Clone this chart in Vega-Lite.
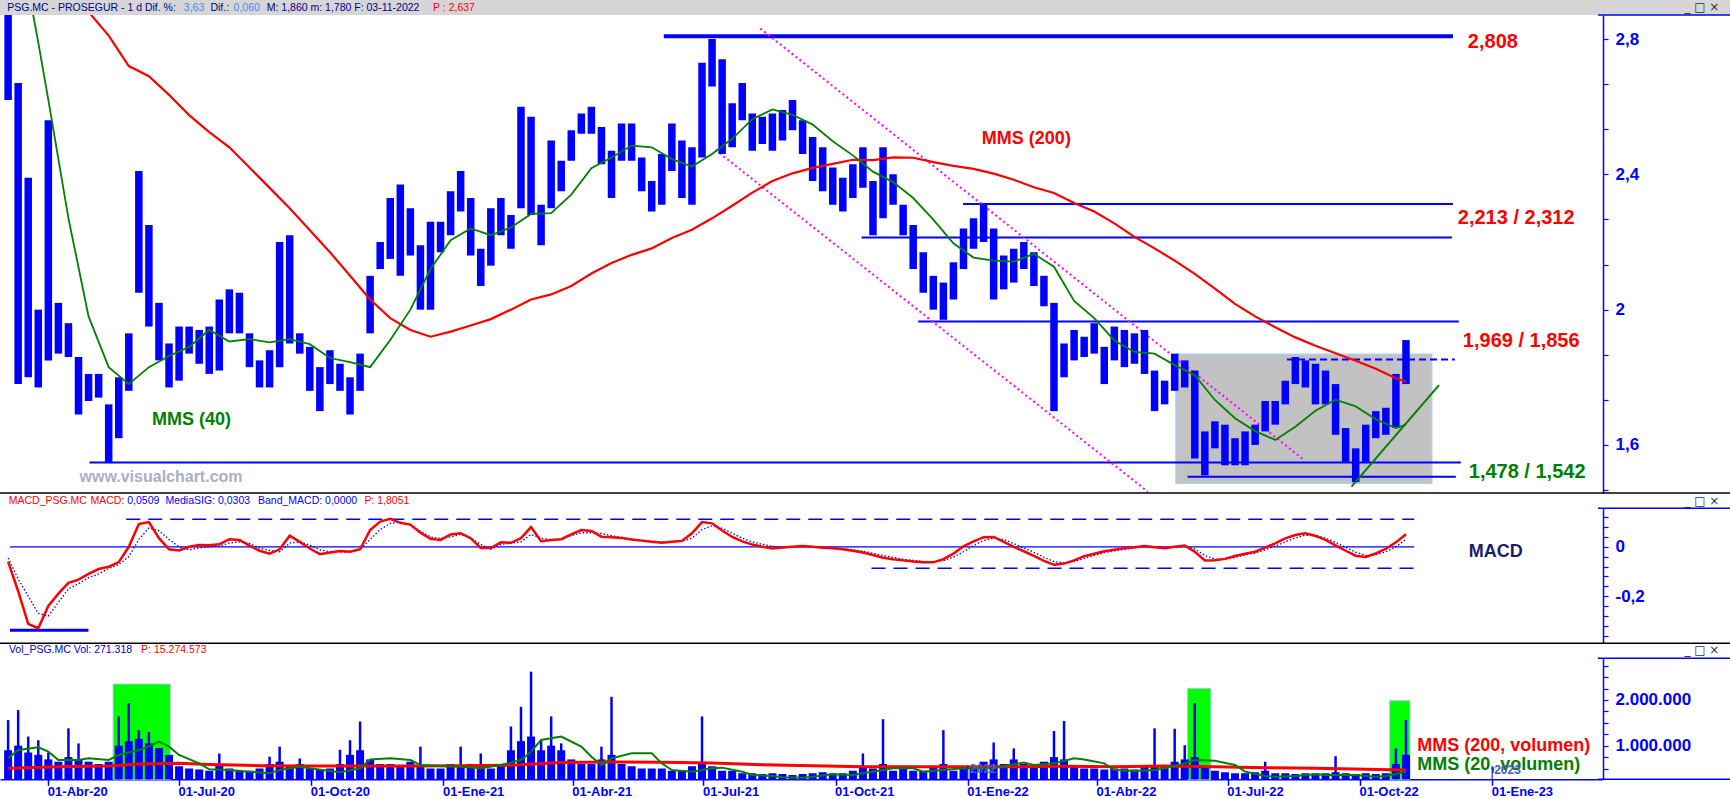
{
"$schema":"https://vega.github.io/schema/vega-lite/v6.json",
"width":1603,"height":764.3,
"autosize":{"type":"none"},
"padding":{"left":0,"top":15,"right":127,"bottom":19.7},
"background":"white",
"config":{"view":{"stroke":null}},
"datasets":{"w":[
{"d":"2020-03-04","h":2.92,"l":2.62,"mc":-0.06,"sg":-0.045,"v":900000,"vs":1560000,"v2":505000,"v20":724000},
{"d":"2020-03-11","h":2.67,"l":1.78,"mc":-0.18,"sg":-0.13,"v":1000000,"vs":1780000,"v20":906000},
{"d":"2020-03-18","h":2.39,"l":1.80,"mc":-0.312,"sg":-0.2,"v":850000,"vs":1200000,"m4":2.95},
{"d":"2020-03-25","h":2.00,"l":1.77,"mc":-0.33,"sg":-0.27,"v":800000,"vs":1120000,"m4":2.79,"v20":965000},
{"d":"2020-04-01","h":2.56,"l":1.85,"mc":-0.24,"sg":-0.28,"v":700000,"vs":850000,"m4":2.62,"v20":870000},
{"d":"2020-04-08","h":2.02,"l":1.87,"mc":-0.19,"sg":-0.225,"v":650000,"v2":540000,"v20":687000},
{"d":"2020-04-15","h":1.96,"l":1.86,"mc":-0.146,"sg":-0.17,"v":750000,"vs":1380000,"m2":3.0,"m4":2.27},
{"d":"2020-04-22","h":1.86,"l":1.69,"mc":-0.133,"sg":-0.15,"v":700000,"vs":1050000,"v20":687000},
{"d":"2020-04-29","h":1.81,"l":1.73,"mc":-0.11,"sg":-0.125,"v":650000,"m2":2.88,"m4":1.98,"v20":724000},
{"d":"2020-05-06","h":1.81,"l":1.74,"mc":-0.09,"sg":-0.11,"v":600000},
{"d":"2020-05-13","h":1.72,"l":1.55,"mc":-0.081,"sg":-0.088,"v":650000,"m2":2.81,"m4":1.83,"v2":556000,"v20":687000},
{"d":"2020-05-20","h":1.80,"l":1.62,"mc":-0.062,"sg":-0.072,"v":1000000,"vs":1640000,"v20":797000},
{"d":"2020-05-27","h":1.93,"l":1.76,"mc":0.0,"sg":-0.04,"v":1100000,"vs":1930000,"m2":2.72,"m4":1.78},
{"d":"2020-06-03","h":2.41,"l":2.05,"mc":0.092,"sg":0.03,"v":1150000,"vs":1340000,"v2":600000,"v20":906000},
{"d":"2020-06-10","h":2.25,"l":1.95,"mc":0.10,"sg":0.076,"v":1050000,"vs":1300000,"m2":2.69,"m4":1.83,"v20":980000},
{"d":"2020-06-17","h":2.02,"l":1.85,"mc":0.035,"sg":0.065,"v":950000,"v20":1090000},
{"d":"2020-06-24","h":1.90,"l":1.77,"mc":-0.01,"sg":0.03,"v":800000,"m2":2.635,"m4":1.863,"v20":980000},
{"d":"2020-07-01","h":1.95,"l":1.79,"mc":-0.015,"sg":0.0,"v":550000,"v2":614000,"v20":797000},
{"d":"2020-07-08","h":1.95,"l":1.87,"mc":0.0,"sg":-0.012,"v":500000,"m2":2.575,"m4":1.89},
{"d":"2020-07-15","h":1.94,"l":1.84,"mc":0.007,"sg":-0.005,"v":480000,"v20":614000},
{"d":"2020-07-22","h":1.95,"l":1.81,"mc":0.006,"sg":0.0,"v":450000,"m2":2.525,"m4":1.94,"v2":590000,"v20":483000},
{"d":"2020-07-29","h":2.03,"l":1.82,"mc":0.01,"sg":0.003,"v":600000,"vs":830000},
{"d":"2020-08-05","h":2.06,"l":1.93,"mc":0.031,"sg":0.015,"v":500000,"m2":2.48,"m4":1.906,"v20":468000},
{"d":"2020-08-12","h":2.05,"l":1.93,"mc":0.028,"sg":0.02,"v":450000},
{"d":"2020-08-19","h":1.93,"l":1.83,"mc":0.005,"sg":0.014,"v":450000,"m2":2.42,"m4":1.913,"v20":430000},
{"d":"2020-08-26","h":1.85,"l":1.77,"mc":-0.016,"sg":-0.005,"v":500000,"v2":563000},
{"d":"2020-09-02","h":1.88,"l":1.77,"mc":-0.028,"sg":-0.015,"v":600000,"vs":760000,"m2":2.36,"m4":1.903,"v20":395000},
{"d":"2020-09-09","h":2.20,"l":1.83,"mc":-0.01,"sg":-0.02,"v":650000,"vs":980000,"v20":468000},
{"d":"2020-09-16","h":2.22,"l":1.90,"mc":0.045,"sg":0.015,"v":550000,"m2":2.30,"m4":1.913},
{"d":"2020-09-23","h":1.93,"l":1.87,"mc":0.02,"sg":0.02,"v":600000,"vs":720000,"v20":540000},
{"d":"2020-09-30","h":1.89,"l":1.76,"mc":-0.007,"sg":0.007,"v":500000,"m2":2.235,"m4":1.898,"v2":556000,"v20":505000},
{"d":"2020-10-07","h":1.83,"l":1.70,"mc":-0.03,"sg":-0.012,"v":480000},
{"d":"2020-10-14","h":1.88,"l":1.78,"mc":-0.023,"sg":-0.02,"v":500000,"m2":2.17,"m4":1.857,"v20":447000},
{"d":"2020-10-21","h":1.84,"l":1.76,"mc":-0.017,"sg":-0.02,"v":600000,"vs":910000,"v20":417000},
{"d":"2020-10-28","h":1.80,"l":1.69,"mc":-0.02,"sg":-0.02,"v":800000,"vs":1120000,"m2":2.10,"m4":1.845},
{"d":"2020-11-04","h":1.87,"l":1.76,"mc":-0.01,"sg":-0.012,"v":900000,"vs":1530000,"v2":556000,"v20":505000},
{"d":"2020-11-11","h":2.10,"l":1.93,"mc":0.068,"sg":0.03,"v":700000,"m2":2.03,"m4":1.83,"v20":700000},
{"d":"2020-11-18","h":2.20,"l":2.12,"mc":0.102,"sg":0.07,"v":600000},
{"d":"2020-11-25","h":2.33,"l":2.15,"mc":0.113,"sg":0.095,"v":600000,"m2":1.975,"m4":1.91,"v20":724000},
{"d":"2020-12-02","h":2.37,"l":2.10,"mc":0.097,"sg":0.10,"v":550000},
{"d":"2020-12-09","h":2.30,"l":2.16,"mc":0.09,"sg":0.088,"v":650000,"m2":1.94,"m4":2.00,"v2":556000,"v20":687000},
{"d":"2020-12-16","h":2.19,"l":2.00,"mc":0.057,"sg":0.063,"v":550000,"vs":980000,"v20":577000},
{"d":"2020-12-23","h":2.26,"l":2.00,"mc":0.032,"sg":0.04,"v":500000,"m2":1.92,"m4":2.12},
{"d":"2020-12-30","h":2.26,"l":2.17,"mc":0.028,"sg":0.034,"v":500000,"v20":556000},
{"d":"2021-01-06","h":2.35,"l":2.22,"mc":0.05,"sg":0.04,"v":600000,"m2":1.935,"m4":2.205},
{"d":"2021-01-13","h":2.41,"l":2.29,"mc":0.055,"sg":0.05,"v":550000,"vs":980000,"v2":563000,"v20":540000},
{"d":"2021-01-20","h":2.33,"l":2.16,"mc":0.035,"sg":0.035,"v":600000,"m2":1.953,"m4":2.24},
{"d":"2021-01-27","h":2.18,"l":2.07,"mc":-0.005,"sg":0.01,"v":550000,"vs":830000,"v20":505000},
{"d":"2021-02-03","h":2.30,"l":2.13,"mc":-0.005,"sg":-0.01,"v":500000,"m2":1.972,"m4":2.22},
{"d":"2021-02-10","h":2.33,"l":2.22,"mc":0.018,"sg":0.01,"v":600000,"v20":577000},
{"d":"2021-02-17","h":2.28,"l":2.18,"mc":0.016,"sg":0.014,"v":900000,"vs":1420000,"m2":2.00,"m4":2.243,"v2":570000},
{"d":"2021-02-24","h":2.60,"l":2.30,"mc":0.035,"sg":0.02,"v":1100000,"vs":1850000,"v20":687000},
{"d":"2021-03-03","h":2.57,"l":2.28,"mc":0.08,"sg":0.05,"v":1200000,"vs":2620000,"m2":2.03,"m4":2.283,"v20":870000},
{"d":"2021-03-10","h":2.31,"l":2.19,"mc":0.023,"sg":0.035,"v":900000,"vs":1120000,"v20":1125000},
{"d":"2021-03-17","h":2.50,"l":2.30,"mc":0.028,"sg":0.028,"v":1000000,"vs":1640000,"m2":2.045,"m4":2.285},
{"d":"2021-03-24","h":2.44,"l":2.35,"mc":0.031,"sg":0.03,"v":900000,"vs":1050000,"v2":630000,"v20":1200000},
{"d":"2021-03-31","h":2.53,"l":2.44,"mc":0.05,"sg":0.045,"v":700000,"m2":2.07,"m4":2.34},
{"d":"2021-04-07","h":2.58,"l":2.52,"mc":0.068,"sg":0.057,"v":600000,"v20":980000},
{"d":"2021-04-14","h":2.60,"l":2.52,"mc":0.064,"sg":0.057,"v":600000,"m2":2.107,"m4":2.418,"v20":760000},
{"d":"2021-04-21","h":2.54,"l":2.43,"mc":0.041,"sg":0.054,"v":700000,"vs":980000,"v20":577000},
{"d":"2021-04-28","h":2.47,"l":2.33,"mc":0.039,"sg":0.045,"v":800000,"vs":2070000,"m2":2.138,"m4":2.45,"v2":643000,"v20":724000},
{"d":"2021-05-05","h":2.55,"l":2.44,"mc":0.036,"sg":0.038,"v":600000},
{"d":"2021-05-12","h":2.55,"l":2.44,"mc":0.03,"sg":0.032,"v":550000,"m2":2.162,"m4":2.485,"v20":833000},
{"d":"2021-05-19","h":2.45,"l":2.35,"mc":0.025,"sg":0.026,"v":500000},
{"d":"2021-05-26","h":2.38,"l":2.29,"mc":0.02,"sg":0.022,"v":500000,"m2":2.181,"m4":2.48,"v20":833000},
{"d":"2021-06-02","h":2.46,"l":2.31,"mc":0.016,"sg":0.02,"v":500000,"v2":636000,"v20":614000},
{"d":"2021-06-09","h":2.55,"l":2.41,"mc":0.02,"sg":0.02,"v":450000,"m2":2.212,"m4":2.445,"v20":468000},
{"d":"2021-06-16","h":2.50,"l":2.33,"mc":0.024,"sg":0.022,"v":450000},
{"d":"2021-06-23","h":2.48,"l":2.31,"mc":0.055,"sg":0.035,"v":550000,"m2":2.236,"m4":2.423,"v20":430000},
{"d":"2021-06-30","h":2.73,"l":2.45,"mc":0.1,"sg":0.07,"v":600000,"vs":1640000},
{"d":"2021-07-07","h":2.80,"l":2.66,"mc":0.095,"sg":0.085,"v":550000,"m2":2.27,"m4":2.46,"v2":620000,"v20":505000},
{"d":"2021-07-14","h":2.74,"l":2.46,"mc":0.066,"sg":0.075,"v":450000,"v20":520000},
{"d":"2021-07-21","h":2.61,"l":2.48,"mc":0.04,"sg":0.055,"v":450000,"m2":2.307,"m4":2.505},
{"d":"2021-07-28","h":2.67,"l":2.56,"mc":0.022,"sg":0.035,"v":400000,"v20":430000},
{"d":"2021-08-04","h":2.58,"l":2.47,"mc":0.009,"sg":0.02,"v":400000,"m2":2.346,"m4":2.563,"v20":360000},
{"d":"2021-08-11","h":2.57,"l":2.49,"mc":0.0,"sg":0.01,"v":380000,"v2":585000},
{"d":"2021-08-18","h":2.58,"l":2.47,"mc":-0.007,"sg":0.002,"v":400000,"m2":2.38,"m4":2.592,"v20":337000},
{"d":"2021-08-25","h":2.59,"l":2.50,"mc":-0.003,"sg":-0.002,"v":380000,"v20":308000},
{"d":"2021-09-01","h":2.62,"l":2.53,"mc":0.0,"sg":-0.001,"v":360000,"m2":2.403,"m4":2.576},
{"d":"2021-09-08","h":2.56,"l":2.46,"mc":0.003,"sg":0.0,"v":380000,"v20":300000},
{"d":"2021-09-15","h":2.51,"l":2.38,"mc":0.0,"sg":0.0,"v":400000,"m2":2.419,"m4":2.547,"v2":563000,"v20":322000},
{"d":"2021-09-22","h":2.48,"l":2.35,"mc":-0.004,"sg":-0.002,"v":420000},
{"d":"2021-09-29","h":2.42,"l":2.31,"mc":-0.006,"sg":-0.004,"v":400000,"m2":2.431,"m4":2.498,"v20":373000},
{"d":"2021-10-06","h":2.39,"l":2.29,"mc":-0.01,"sg":-0.007,"v":400000},
{"d":"2021-10-13","h":2.43,"l":2.33,"mc":-0.016,"sg":-0.012,"v":450000,"m2":2.443,"m4":2.456,"v20":358000},
{"d":"2021-10-20","h":2.48,"l":2.36,"mc":-0.023,"sg":-0.018,"v":550000,"vs":830000,"v2":540000,"v20":395000},
{"d":"2021-10-27","h":2.38,"l":2.22,"mc":-0.033,"sg":-0.026,"v":500000,"m2":2.442,"m4":2.408},
{"d":"2021-11-03","h":2.48,"l":2.27,"mc":-0.044,"sg":-0.035,"v":600000,"vs":1580000,"v20":468000},
{"d":"2021-11-10","h":2.40,"l":2.31,"mc":-0.05,"sg":-0.043,"v":450000,"m2":2.45,"m4":2.377,"v20":505000},
{"d":"2021-11-17","h":2.31,"l":2.22,"mc":-0.055,"sg":-0.05,"v":500000},
{"d":"2021-11-24","h":2.25,"l":2.12,"mc":-0.06,"sg":-0.055,"v":450000,"m2":2.449,"m4":2.33,"v2":540000,"v20":505000},
{"d":"2021-12-01","h":2.17,"l":2.05,"mc":-0.063,"sg":-0.059,"v":450000,"v20":432000},
{"d":"2021-12-08","h":2.10,"l":2.00,"mc":-0.063,"sg":-0.061,"v":550000,"m2":2.436,"m4":2.266},
{"d":"2021-12-15","h":2.08,"l":1.97,"mc":-0.05,"sg":-0.056,"v":600000,"vs":1340000,"v20":468000},
{"d":"2021-12-22","h":2.14,"l":2.03,"mc":-0.028,"sg":-0.042,"v":450000,"m2":2.425,"m4":2.196},
{"d":"2021-12-29","h":2.24,"l":2.12,"mc":0.002,"sg":-0.02,"v":500000,"v2":540000,"v20":505000},
{"d":"2022-01-05","h":2.27,"l":2.18,"mc":0.022,"sg":0.005,"v":550000,"m2":2.416,"m4":2.154,"v20":505000},
{"d":"2022-01-12","h":2.31,"l":2.20,"mc":0.039,"sg":0.025,"v":650000},
{"d":"2022-01-19","h":2.24,"l":2.03,"mc":0.04,"sg":0.035,"v":700000,"vs":1070000,"m2":2.402,"m4":2.145,"v20":505000},
{"d":"2022-01-26","h":2.16,"l":2.06,"mc":0.02,"sg":0.03,"v":600000,"v20":556000},
{"d":"2022-02-02","h":2.18,"l":2.08,"mc":0.0,"sg":0.013,"v":700000,"vs":940000,"m2":2.384,"m4":2.142,"v2":540000},
{"d":"2022-02-09","h":2.20,"l":2.12,"mc":-0.018,"sg":-0.005,"v":600000,"v20":630000},
{"d":"2022-02-16","h":2.17,"l":2.07,"mc":-0.037,"sg":-0.022,"v":550000,"m2":2.362,"m4":2.165,"v20":577000},
{"d":"2022-02-23","h":2.10,"l":2.01,"mc":-0.057,"sg":-0.042,"v":650000},
{"d":"2022-03-02","h":2.02,"l":1.70,"mc":-0.073,"sg":-0.06,"v":750000,"vs":1320000,"m2":2.345,"m4":2.127,"v20":614000},
{"d":"2022-03-09","h":1.90,"l":1.80,"mc":-0.068,"sg":-0.065,"v":700000,"vs":1540000,"v2":550000},
{"d":"2022-03-16","h":1.94,"l":1.85,"mc":-0.055,"sg":-0.06,"v":550000,"m2":2.315,"m4":2.026,"v20":724000},
{"d":"2022-03-23","h":1.92,"l":1.86,"mc":-0.038,"sg":-0.047,"v":500000,"v20":700000},
{"d":"2022-03-30","h":1.96,"l":1.87,"mc":-0.028,"sg":-0.035,"v":500000,"m2":2.29,"m4":1.975},
{"d":"2022-04-06","h":1.89,"l":1.78,"mc":-0.018,"sg":-0.024,"v":480000,"v20":614000},
{"d":"2022-04-13","h":1.95,"l":1.85,"mc":-0.012,"sg":-0.016,"v":500000,"m2":2.255,"m4":1.909,"v2":540000,"v20":468000},
{"d":"2022-04-20","h":1.94,"l":1.83,"mc":-0.006,"sg":-0.01,"v":500000},
{"d":"2022-04-27","h":1.93,"l":1.84,"mc":-0.002,"sg":-0.005,"v":480000,"m2":2.215,"m4":1.875,"v20":447000},
{"d":"2022-05-04","h":1.94,"l":1.81,"mc":0.003,"sg":0.0,"v":550000},
{"d":"2022-05-11","h":1.82,"l":1.70,"mc":-0.002,"sg":0.0,"v":550000,"vs":1380000,"m2":2.181,"m4":1.87,"v20":468000},
{"d":"2022-05-18","h":1.79,"l":1.72,"mc":-0.006,"sg":-0.004,"v":550000,"v2":556000,"v20":505000},
{"d":"2022-05-25","h":1.87,"l":1.76,"mc":0.0,"sg":-0.002,"v":650000,"vs":1370000,"m2":2.145,"m4":1.836},
{"d":"2022-06-01","h":1.85,"l":1.77,"mc":0.005,"sg":0.002,"v":700000,"vs":1010000,"v20":614000},
{"d":"2022-06-08","h":1.82,"l":1.56,"mc":-0.02,"sg":-0.008,"v":750000,"vs":1930000,"m2":2.106,"m4":1.806,"v20":687000},
{"d":"2022-06-15","h":1.64,"l":1.51,"mc":-0.055,"sg":-0.035,"v":550000},
{"d":"2022-06-22","h":1.67,"l":1.59,"mc":-0.054,"sg":-0.05,"v":450000,"m2":2.062,"m4":1.733,"v2":540000,"v20":672000},
{"d":"2022-06-29","h":1.66,"l":1.54,"mc":-0.049,"sg":-0.05,"v":420000},
{"d":"2022-07-06","h":1.62,"l":1.54,"mc":-0.037,"sg":-0.043,"v":400000,"m2":2.017,"m4":1.679,"v20":577000},
{"d":"2022-07-13","h":1.64,"l":1.54,"mc":-0.028,"sg":-0.033,"v":400000,"v20":432000},
{"d":"2022-07-20","h":1.66,"l":1.60,"mc":-0.02,"sg":-0.025,"v":420000,"m2":1.98,"m4":1.641},
{"d":"2022-07-27","h":1.73,"l":1.64,"mc":-0.003,"sg":-0.012,"v":450000,"vs":650000,"v2":520000,"v20":337000},
{"d":"2022-08-03","h":1.73,"l":1.66,"mc":0.014,"sg":0.003,"v":400000,"m2":1.948,"m4":1.615,"v20":322000},
{"d":"2022-08-10","h":1.79,"l":1.72,"mc":0.034,"sg":0.02,"v":400000},
{"d":"2022-08-17","h":1.86,"l":1.78,"mc":0.048,"sg":0.036,"v":380000,"m2":1.918,"m4":1.654,"v20":337000},
{"d":"2022-08-24","h":1.85,"l":1.77,"mc":0.055,"sg":0.047,"v":400000},
{"d":"2022-08-31","h":1.84,"l":1.72,"mc":0.044,"sg":0.046,"v":400000,"m2":1.893,"m4":1.701,"v2":505000,"v20":373000},
{"d":"2022-09-07","h":1.82,"l":1.72,"mc":0.028,"sg":0.035,"v":400000,"v20":358000},
{"d":"2022-09-14","h":1.78,"l":1.63,"mc":0.006,"sg":0.018,"v":420000,"vs":770000,"m2":1.871,"m4":1.734},
{"d":"2022-09-21","h":1.65,"l":1.55,"mc":-0.016,"sg":-0.002,"v":400000,"v20":358000},
{"d":"2022-09-28","h":1.59,"l":1.49,"mc":-0.036,"sg":-0.022,"v":380000,"m2":1.849,"m4":1.714,"v20":358000},
{"d":"2022-10-05","h":1.66,"l":1.55,"mc":-0.041,"sg":-0.035,"v":400000,"v2":483000},
{"d":"2022-10-12","h":1.70,"l":1.62,"mc":-0.027,"sg":-0.033,"v":380000,"m2":1.825,"m4":1.676,"v20":322000},
{"d":"2022-10-19","h":1.71,"l":1.63,"mc":-0.008,"sg":-0.02,"v":400000,"v20":337000},
{"d":"2022-10-26","h":1.81,"l":1.65,"mc":0.018,"sg":0.0,"v":600000,"vs":940000,"m2":1.797,"m4":1.65},
{"d":"2022-11-02","h":1.91,"l":1.78,"mc":0.051,"sg":0.03,"v":800000,"vs":1560000,"m2":1.787,"m4":1.66,"v2":470000,"v20":432000}
]},
"resolve":{"scale":{"y":"independent"},"axis":{"y":"independent"}},
"layer":[
{"layer":[
{"data":{"values":[{"a":"2022-05-25T22:00:00Z","b":"2022-11-19T22:00:00Z","ya":1.487,"yb":1.868}]},
 "mark":{"type":"rect","color":"#bcbcbc","opacity":0.9,"stroke":"#a9c8ea","strokeWidth":1.5},
 "encoding":{
  "x":{"field":"a","type":"temporal","title":null,
   "scale":{"type":"utc","nice":false,"domain":[{"year":2020,"month":3,"date":1,"hours":20,"utc":true},{"year":2023,"month":3,"date":15,"hours":16,"utc":true}]},
   "axis":{"title":null,"values":[{"year":2020,"month":4,"date":1,"utc":true},{"year":2020,"month":7,"date":1,"utc":true},{"year":2020,"month":10,"date":1,"utc":true},{"year":2021,"month":1,"date":1,"utc":true},{"year":2021,"month":4,"date":1,"utc":true},{"year":2021,"month":7,"date":1,"utc":true},{"year":2021,"month":10,"date":1,"utc":true},{"year":2022,"month":1,"date":1,"utc":true},{"year":2022,"month":4,"date":1,"utc":true},{"year":2022,"month":7,"date":1,"utc":true},{"year":2022,"month":10,"date":1,"utc":true},{"year":2023,"month":1,"date":1,"utc":true}],
    "labelExpr":"'01-' + ['Ene','Feb','Mar','Abr','May','Jun','Jul','Ago','Sep','Oct','Nov','Dic'][utcmonth(datum.value)] + '-' + utcFormat(datum.value, '%y')",
    "domainColor":"#0000ff","domainWidth":1.5,"tickColor":"#0000ff","tickSize":6,"tickWidth":1.5,"labelColor":"#0000ff","labelFont":"Liberation Sans","labelFontSize":13,"labelFontWeight":"bold","labelAlign":"left","labelBaseline":"top","labelPadding":0,"labelOffset":-1,"labelOverlap":false,"labelFlush":false,"grid":false}},
  "x2":{"field":"b"},
  "y":{"field":"ya","type":"quantitative","title":null,
   "scale":{"domain":[1.458,2.871],"range":[478,0],"nice":false,"zero":false},
   "axis":{"orient":"right","title":null,"values":[1.4667,1.5,1.5333,1.5667,1.6,1.6333,1.6667,1.7,1.7333,1.7667,1.8,1.8333,1.8667,1.9,1.9333,1.9667,2.0,2.0333,2.0667,2.1,2.1333,2.1667,2.2,2.2333,2.2667,2.3,2.3333,2.3667,2.4,2.4333,2.4667,2.5,2.5333,2.5667,2.6,2.6333,2.6667,2.7,2.7333,2.7667,2.8,2.8333,2.8667],
    "labelExpr":"abs(datum.value*5-round(datum.value*5))<0.01 ? replace(format(datum.value,'~g'),'.',',') : ''",
    "domainColor":"#0000ff","domainWidth":1.5,"tickColor":"#0000ff","tickSize":5,"tickWidth":1.2,"labelColor":"#0000ff","labelFont":"Liberation Sans","labelFontSize":17,"labelFontWeight":"bold","labelPadding":7,"labelOverlap":false,"labelFlush":false,"grid":false}},
  "y2":{"field":"yb"}}},
{"data":{"values":[{"a":"2021-12-28T17:00:00Z","b":"2022-12-04T17:00:00Z","y":2.312},{"a":"2021-10-19T02:00:00Z","b":"2022-12-04T00:00:00Z","y":2.213},{"a":"2021-11-27T12:00:00Z","b":"2022-12-08T19:00:00Z","y":1.965},{"a":"2020-04-29T14:00:00Z","b":"2022-12-10T05:00:00Z","y":1.548},{"a":"2022-06-03T00:00:00Z","b":"2022-12-06T17:00:00Z","y":1.506}]},
 "mark":{"type":"rule","color":"#0000ff","strokeWidth":2},
 "encoding":{"x":{"field":"a","type":"temporal","title":null},"x2":{"field":"b"},"y":{"field":"y","type":"quantitative","title":null}}},
{"data":{"values":[{"a":"2021-06-03T10:00:00Z","b":"2022-12-04T17:00:00Z","y":2.808}]},
 "mark":{"type":"rule","color":"#0000ff","strokeWidth":4},
 "encoding":{"x":{"field":"a","type":"temporal","title":null},"x2":{"field":"b"},"y":{"field":"y","type":"quantitative","title":null}}},
{"data":{"values":[{"a":"2022-08-11T05:00:00Z","b":"2022-12-06T00:00:00Z","y":1.853}]},
 "mark":{"type":"rule","color":"#0000ff","strokeWidth":2,"strokeDash":[7,4]},
 "encoding":{"x":{"field":"a","type":"temporal","title":null},"x2":{"field":"b"},"y":{"field":"y","type":"quantitative","title":null}}},
{"data":{"values":[{"a":"2021-08-09T14:00:00Z","ya":2.831,"b":"2022-08-22T22:00:00Z","yb":1.556},{"a":"2021-07-09T10:00:00Z","ya":2.472,"b":"2022-05-06T07:00:00Z","yb":1.462}]},
 "mark":{"type":"rule","color":"#ff00ff","strokeWidth":2,"strokeDash":[2,3]},
 "encoding":{"x":{"field":"a","type":"temporal","title":null},"x2":{"field":"b"},"y":{"field":"ya","type":"quantitative","title":null},"y2":{"field":"yb"}}},
{"data":{"name":"w"},
 "mark":{"type":"bar","color":"#0000ff","width":7.5,"clip":true},
 "encoding":{"x":{"field":"d","type":"temporal","title":null},"y":{"field":"h","type":"quantitative","title":null},"y2":{"field":"l"}}},
{"data":{"name":"w"},"transform":[{"filter":"isValid(datum.m2)"}],
 "mark":{"type":"line","color":"#ff0000","strokeWidth":2.2,"clip":true},
 "encoding":{"x":{"field":"d","type":"temporal","title":null},"y":{"field":"m2","type":"quantitative","title":null}}},
{"data":{"name":"w"},"transform":[{"filter":"isValid(datum.m4)"}],
 "mark":{"type":"line","color":"#008000","strokeWidth":1.8,"clip":true},
 "encoding":{"x":{"field":"d","type":"temporal","title":null},"y":{"field":"m4","type":"quantitative","title":null}}},
{"data":{"values":[{"a":"2022-09-25T02:00:00Z","ya":1.477,"b":"2022-11-25T00:00:00Z","yb":1.777}]},
 "mark":{"type":"rule","color":"#008000","strokeWidth":2},
 "encoding":{"x":{"field":"a","type":"temporal","title":null},"x2":{"field":"b"},"y":{"field":"ya","type":"quantitative","title":null},"y2":{"field":"yb"}}},
{"data":{"values":[{"a":"2022-12-15T02:00:00Z","y":2.791,"t":"2,808"},{"a":"2022-12-08T02:00:00Z","y":2.271,"t":"2,213 / 2,312"},{"a":"2022-12-11T14:00:00Z","y":1.907,"t":"1,969 / 1,856"}]},
 "mark":{"type":"text","align":"left","baseline":"middle","font":"Liberation Sans","fontWeight":"bold","fontSize":20,"color":"#ff0000"},
 "encoding":{"x":{"field":"a","type":"temporal","title":null},"y":{"field":"y","type":"quantitative","title":null},"text":{"field":"t"}}},
{"data":{"values":[{"a":"2022-12-15T17:00:00Z","y":1.52,"t":"1,478 / 1,542"}]},
 "mark":{"type":"text","align":"left","baseline":"middle","font":"Liberation Sans","fontWeight":"bold","fontSize":20,"color":"#008000"},
 "encoding":{"x":{"field":"a","type":"temporal","title":null},"y":{"field":"y","type":"quantitative","title":null},"text":{"field":"t"}}},
{"data":{"values":[{"a":"2022-01-10T19:00:00Z","y":2.504,"t":"MMS (200)"}]},
 "mark":{"type":"text","align":"left","baseline":"middle","font":"Liberation Sans","fontWeight":"bold","fontSize":18,"color":"#ff0000"},
 "encoding":{"x":{"field":"a","type":"temporal","title":null},"y":{"field":"y","type":"quantitative","title":null},"text":{"field":"t"}}},
{"data":{"values":[{"a":"2020-06-12T05:00:00Z","y":1.674,"t":"MMS (40)"}]},
 "mark":{"type":"text","align":"left","baseline":"middle","font":"Liberation Sans","fontWeight":"bold","fontSize":18,"color":"#008000"},
 "encoding":{"x":{"field":"a","type":"temporal","title":null},"y":{"field":"y","type":"quantitative","title":null},"text":{"field":"t"}}},
{"data":{"values":[{"a":"2020-04-22T17:00:00Z","y":1.505,"t":"www.visualchart.com"}]},
 "mark":{"type":"text","align":"left","baseline":"middle","font":"Liberation Sans","fontWeight":"bold","fontSize":16,"color":"#a9afcb"},
 "encoding":{"x":{"field":"a","type":"temporal","title":null},"y":{"field":"y","type":"quantitative","title":null},"text":{"field":"t"}}},
{"data":{"values":[{"a":"2020-02-01T00:00:00Z","b":"2023-07-01T00:00:00Z"}]},
 "mark":{"type":"rect","color":"#d6d6d6"},
 "encoding":{"x":{"field":"a","type":"temporal","title":null},"x2":{"field":"b"},"y":{"datum":2.871},"y2":{"datum":2.93}}},
{"data":{"values":[{"a":"2020-03-03T09:00:00Z","t":"PSG.MC - PROSEGUR -  1 d  Dif. %:"},{"a":"2020-07-22T19:00:00Z","t":"Dif.:"},{"a":"2020-08-31T00:00:00Z","t":"M: 1,860  m: 1,780  F: 03-11-2022"}]},
 "mark":{"type":"text","align":"left","baseline":"middle","font":"Liberation Sans","fontSize":10.5,"color":"#00008b"},
 "encoding":{"x":{"field":"a","type":"temporal","title":null},"y":{"datum":2.893},"text":{"field":"t"}}},
{"data":{"values":[{"a":"2020-07-04T07:00:00Z","t":"3,63"},{"a":"2020-08-07T22:00:00Z","t":"0,060"}]},
 "mark":{"type":"text","align":"left","baseline":"middle","font":"Liberation Sans","fontSize":10.5,"color":"#3c8cff"},
 "encoding":{"x":{"field":"a","type":"temporal","title":null},"y":{"datum":2.893},"text":{"field":"t"}}},
{"data":{"values":[{"a":"2020-12-24T19:00:00Z","t":"P : 2,637"}]},
 "mark":{"type":"text","align":"left","baseline":"middle","font":"Liberation Sans","fontSize":10.5,"color":"#ff0000"},
 "encoding":{"x":{"field":"a","type":"temporal","title":null},"y":{"datum":2.893},"text":{"field":"t"}}},
{"data":{"values":[{"a":"2023-05-14T19:00:00Z","t":"_ □ ×"}]},
 "mark":{"type":"text","align":"left","baseline":"middle","font":"DejaVu Sans","fontSize":12,"color":"#303030"},
 "encoding":{"x":{"field":"a","type":"temporal","title":null},"y":{"datum":2.894},"text":{"field":"t"}}},
{"data":{"values":[{"a":"2020-02-01T00:00:00Z","b":"2023-07-01T00:00:00Z"}]},
 "mark":{"type":"rule","color":"#000000","strokeWidth":1.5},
 "encoding":{"x":{"field":"a","type":"temporal","title":null},"x2":{"field":"b"},"y":{"datum":1.458}}},
{"data":{"values":[{"a":"2023-03-15T16:00:00Z","b":"2023-07-01T00:00:00Z"}]},
 "mark":{"type":"rule","color":"#0000ff","strokeWidth":1.5},
 "encoding":{"x":{"field":"a","type":"temporal","title":null},"x2":{"field":"b"},"y":{"datum":2.871}}}
]},
{"layer":[
{"data":{"values":[{"a":"2020-03-05T07:00:00Z","b":"2022-11-07T17:00:00Z","y":0}]},
 "mark":{"type":"rule","color":"#0000ff","strokeWidth":1.2},
 "encoding":{"x":{"field":"a","type":"temporal","title":null},"x2":{"field":"b"},
  "y":{"field":"y","type":"quantitative","title":null,
   "scale":{"domain":[-0.391,0.156],"range":[628.3,493.3],"nice":false,"zero":false},
   "axis":{"orient":"right","title":null,"values":[-0.36,-0.32,-0.28,-0.24,-0.2,-0.16,-0.12,-0.08,-0.04,0,0.04,0.08,0.12],
    "labelExpr":"abs(datum.value)<0.001 ? '0' : (abs(datum.value+0.2)<0.001 ? '-0,2' : '')",
    "domainColor":"#0000ff","domainWidth":1.5,"tickColor":"#0000ff","tickSize":5,"tickWidth":1.2,"labelColor":"#0000ff","labelFont":"Liberation Sans","labelFontSize":17,"labelFontWeight":"bold","labelPadding":7,"labelOverlap":false,"labelFlush":false,"grid":false}}}},
{"data":{"values":[{"a":"2020-05-25T05:00:00Z","b":"2022-11-07T17:00:00Z","y":0.112},{"a":"2021-10-26T00:00:00Z","b":"2022-11-11T05:00:00Z","y":-0.087}]},
 "mark":{"type":"rule","color":"#0000ff","strokeWidth":1.5,"strokeDash":[14,8]},
 "encoding":{"x":{"field":"a","type":"temporal","title":null},"x2":{"field":"b"},"y":{"field":"y","type":"quantitative","title":null}}},
{"data":{"values":[{"a":"2020-03-05T07:00:00Z","b":"2020-04-28T22:00:00Z","y":-0.338}]},
 "mark":{"type":"rule","color":"#0000ff","strokeWidth":3},
 "encoding":{"x":{"field":"a","type":"temporal","title":null},"x2":{"field":"b"},"y":{"field":"y","type":"quantitative","title":null}}},
{"data":{"name":"w"},
 "mark":{"type":"line","color":"#0000ff","strokeWidth":1.3,"strokeDash":[1.5,2]},
 "encoding":{"x":{"field":"d","type":"temporal","title":null},"y":{"field":"sg","type":"quantitative","title":null}}},
{"data":{"name":"w"},
 "mark":{"type":"line","color":"#ff0000","strokeWidth":2.5},
 "encoding":{"x":{"field":"d","type":"temporal","title":null},"y":{"field":"mc","type":"quantitative","title":null}}},
{"data":{"values":[{"a":"2022-12-15T17:00:00Z","y":-0.0215,"t":"MACD"}]},
 "mark":{"type":"text","align":"left","baseline":"middle","font":"Liberation Sans","fontWeight":"bold","fontSize":18,"color":"#1b1b6e"},
 "encoding":{"x":{"field":"a","type":"temporal","title":null},"y":{"field":"y","type":"quantitative","title":null},"text":{"field":"t"}}},
{"data":{"values":[{"a":"2020-03-04T11:00:00Z","t":"MACD_PSG.MC"},{"a":"2020-04-30T07:00:00Z","t":"MACD:"},{"a":"2020-11-07T00:00:00Z","t":"P: 1,8051"}]},
 "mark":{"type":"text","align":"left","baseline":"middle","font":"Liberation Sans","fontSize":10.5,"color":"#ff0000"},
 "encoding":{"x":{"field":"a","type":"temporal","title":null},"y":{"datum":0.1856},"text":{"field":"t"}}},
{"data":{"values":[{"a":"2020-05-25T22:00:00Z","t":"0,0509"},{"a":"2020-06-21T12:00:00Z","t":"MediaSIG: 0,0303"},{"a":"2020-08-24T22:00:00Z","t":"Band_MACD: 0,0000"}]},
 "mark":{"type":"text","align":"left","baseline":"middle","font":"Liberation Sans","fontSize":10.5,"color":"#0000ff"},
 "encoding":{"x":{"field":"a","type":"temporal","title":null},"y":{"datum":0.1856},"text":{"field":"t"}}},
{"data":{"values":[{"a":"2023-05-14T19:00:00Z","t":"_ □ ×"}]},
 "mark":{"type":"text","align":"left","baseline":"middle","font":"DejaVu Sans","fontSize":12,"color":"#303030"},
 "encoding":{"x":{"field":"a","type":"temporal","title":null},"y":{"datum":0.1856},"text":{"field":"t"}}},
{"data":{"values":[{"a":"2020-02-01T00:00:00Z","b":"2023-07-01T00:00:00Z"}]},
 "mark":{"type":"rule","color":"#000000","strokeWidth":1.5},
 "encoding":{"x":{"field":"a","type":"temporal","title":null},"x2":{"field":"b"},"y":{"datum":-0.391}}},
{"data":{"values":[{"a":"2023-03-15T16:00:00Z","b":"2023-07-01T00:00:00Z"}]},
 "mark":{"type":"rule","color":"#0000ff","strokeWidth":1.5},
 "encoding":{"x":{"field":"a","type":"temporal","title":null},"x2":{"field":"b"},"y":{"datum":0.156}}}
]},
{"layer":[
{"data":{"values":[{"a":"2020-05-16T02:00:00Z","b":"2020-06-24T22:00:00Z","ya":265000,"yb":2350000},{"a":"2022-06-03T00:00:00Z","b":"2022-06-19T05:00:00Z","ya":265000,"yb":2256000},{"a":"2022-10-21T17:00:00Z","b":"2022-11-04T19:00:00Z","ya":265000,"yb":1985000}]},
 "mark":{"type":"rect","color":"#00ff00","stroke":"#a9c8ea","strokeWidth":1},
 "encoding":{"x":{"field":"a","type":"temporal","title":null},"x2":{"field":"b"},
  "y":{"field":"ya","type":"quantitative","title":null,
   "scale":{"domain":[265000,2912000],"range":[764.3,643.3],"nice":false,"zero":false},
   "axis":{"orient":"right","title":null,"values":[500000,750000,1000000,1250000,1500000,1750000,2000000,2250000,2500000,2750000],
    "labelExpr":"datum.value == 1000000 ? '1.000.000' : (datum.value == 2000000 ? '2.000.000' : '')",
    "domainColor":"#0000ff","domainWidth":1.5,"tickColor":"#0000ff","tickSize":5,"tickWidth":1.2,"labelColor":"#0000ff","labelFont":"Liberation Sans","labelFontSize":17,"labelFontWeight":"bold","labelPadding":7,"labelOverlap":false,"labelFlush":false,"grid":false}},
  "y2":{"field":"yb"}}},
{"data":{"name":"w"},
 "mark":{"type":"bar","color":"#0000ff","width":8,"clip":true},
 "encoding":{"x":{"field":"d","type":"temporal","title":null},"y":{"field":"v","type":"quantitative","title":null},"y2":{"datum":0}}},
{"data":{"name":"w"},"transform":[{"filter":"isValid(datum.vs)"}],
 "mark":{"type":"rule","color":"#0000ff","strokeWidth":2.5,"clip":true},
 "encoding":{"x":{"field":"d","type":"temporal","title":null},"y":{"field":"vs","type":"quantitative","title":null},"y2":{"datum":0}}},
{"data":{"name":"w"},"transform":[{"filter":"isValid(datum.v2)"}],
 "mark":{"type":"line","color":"#ff0000","strokeWidth":3},
 "encoding":{"x":{"field":"d","type":"temporal","title":null},"y":{"field":"v2","type":"quantitative","title":null}}},
{"data":{"name":"w"},"transform":[{"filter":"isValid(datum.v20)"}],
 "mark":{"type":"line","color":"#008000","strokeWidth":2},
 "encoding":{"x":{"field":"d","type":"temporal","title":null},"y":{"field":"v20","type":"quantitative","title":null}}},
{"data":{"values":[{"a":"2022-11-09T19:00:00Z","y":993000,"t":"MMS (200, volumen)"}]},
 "mark":{"type":"text","align":"left","baseline":"middle","font":"Liberation Sans","fontWeight":"bold","fontSize":18,"color":"#ff0000"},
 "encoding":{"x":{"field":"a","type":"temporal","title":null},"y":{"field":"y","type":"quantitative","title":null},"text":{"field":"t"}}},
{"data":{"values":[{"a":"2022-11-09T19:00:00Z","y":578000,"t":"MMS (20, volumen)"}]},
 "mark":{"type":"text","align":"left","baseline":"middle","font":"Liberation Sans","fontWeight":"bold","fontSize":18,"color":"#008000"},
 "encoding":{"x":{"field":"a","type":"temporal","title":null},"y":{"field":"y","type":"quantitative","title":null},"text":{"field":"t"}}},
{"data":{"values":[{"a":"2022-01-01T00:00:00Z","y":265000,"y2":560000},{"a":"2023-01-01T00:00:00Z","y":265000,"y2":560000}]},
 "mark":{"type":"rule","color":"#0000ff","strokeWidth":1},
 "encoding":{"x":{"field":"a","type":"temporal","title":null},"y":{"field":"y","type":"quantitative","title":null},"y2":{"field":"y2"}}},
{"data":{"values":[{"a":"2022-01-01T00:00:00Z","y":500000,"t":"2022"},{"a":"2023-01-01T00:00:00Z","y":470000,"t":"2023"}]},
 "mark":{"type":"text","align":"left","baseline":"middle","dx":2,"font":"Liberation Sans","fontWeight":"bold","fontSize":12,"color":"#4a5ab8"},
 "encoding":{"x":{"field":"a","type":"temporal","title":null},"y":{"field":"y","type":"quantitative","title":null},"text":{"field":"t"}}},
{"data":{"values":[{"a":"2020-03-04T14:00:00Z","t":"Vol_PSG.MC  Vol: 271.318"}]},
 "mark":{"type":"text","align":"left","baseline":"middle","font":"Liberation Sans","fontSize":10.5,"color":"#0000cc"},
 "encoding":{"x":{"field":"a","type":"temporal","title":null},"y":{"datum":3083000},"text":{"field":"t"}}},
{"data":{"values":[{"a":"2020-06-04T14:00:00Z","t":"P: 15.274.573"}]},
 "mark":{"type":"text","align":"left","baseline":"middle","font":"Liberation Sans","fontSize":10.5,"color":"#ff0000"},
 "encoding":{"x":{"field":"a","type":"temporal","title":null},"y":{"datum":3083000},"text":{"field":"t"}}},
{"data":{"values":[{"a":"2023-05-14T19:00:00Z","t":"_ □ ×"}]},
 "mark":{"type":"text","align":"left","baseline":"middle","font":"DejaVu Sans","fontSize":12,"color":"#303030"},
 "encoding":{"x":{"field":"a","type":"temporal","title":null},"y":{"datum":3083000},"text":{"field":"t"}}},
{"data":{"values":[{"a":"2023-03-15T16:00:00Z","b":"2023-07-01T00:00:00Z","y":2912000},{"a":"2023-03-15T16:00:00Z","b":"2023-07-01T00:00:00Z","y":265000}]},
 "mark":{"type":"rule","color":"#0000ff","strokeWidth":1.5},
 "encoding":{"x":{"field":"a","type":"temporal","title":null},"x2":{"field":"b"},"y":{"field":"y","type":"quantitative","title":null}}}
]}
]
}
